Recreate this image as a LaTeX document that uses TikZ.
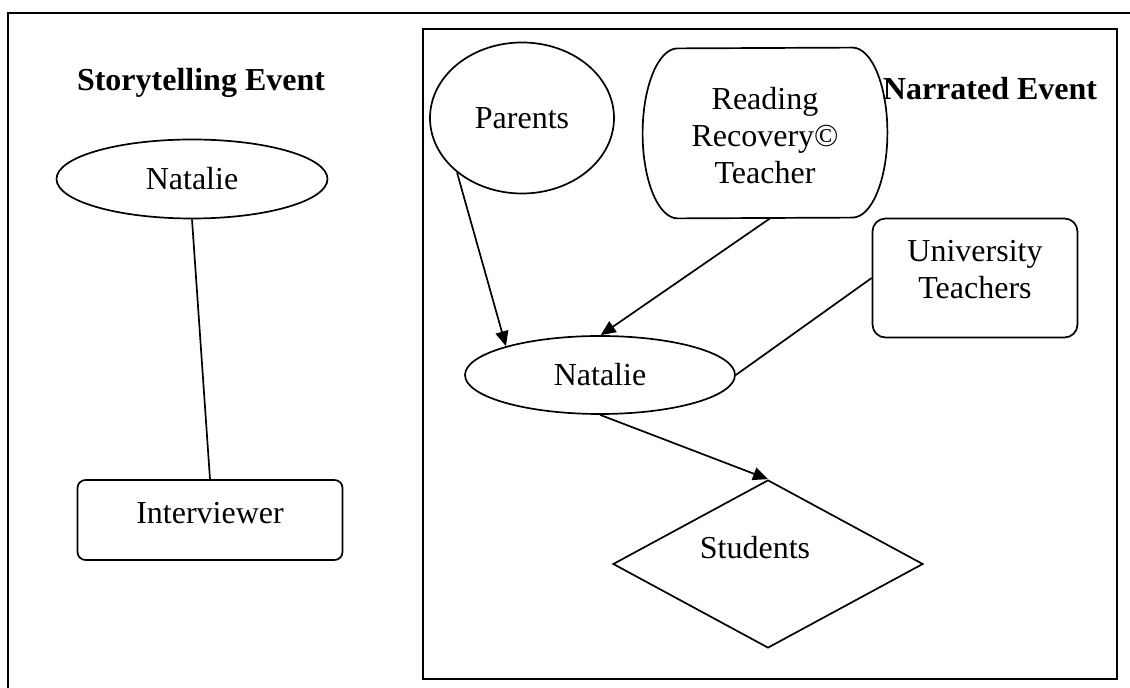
\documentclass[tikz,border=0pt]{standalone}
\usepackage{fontspec}
\setmainfont{Liberation Serif}
\usetikzlibrary{shapes.geometric,arrows.meta}

\begin{document}
\begin{tikzpicture}[x=0.5pt,y=-0.5pt,
    every node/.style={font=\fontsize{16}{18.5}\selectfont, inner sep=0pt},
    frame/.style={line width=1.15pt},
    oval/.style={draw, ellipse, line width=0.85pt},
    roundbox/.style={draw, rectangle, rounded corners=#1, line width=0.85pt},
    roundbox/.default=4pt,
    heading/.style={font=\fontsize{16}{18.5}\selectfont\bfseries, anchor=base},
    link/.style={line width=0.85pt},
    pointer/.style={line width=0.85pt, -{Triangle[length=7.5pt,width=6.5pt]}}]
                \useasboundingbox (0,0) rectangle (1130,688);

                % Outer frame (cut off at right and bottom)
                \draw[frame] (1130,13) -- (8,13) -- (8,688);

                % Storytelling event
                \node[heading] (story) at (201,91) {Storytelling Event};
                \node[oval, minimum width=135.5pt, minimum height=39.5pt] (tellnat) at (192,179) {Natalie};
                \node[roundbox=4pt, minimum width=132.5pt, minimum height=40pt,
                      label={[name=interviewer-t, yshift=3.5pt]center:Interviewer}] (interviewer) at (210,520) {};
                \draw[link] (tellnat.south) -- (interviewer.north);

                % Narrated event box
                \draw[frame] (423,29) rectangle (1117,679);
                \node[heading] (narr) at (990,100) {Narrated Event};
                \node[oval, minimum width=92pt, minimum height=75.5pt] (parents) at (522,118) {Parents};
                \node[minimum width=122pt, minimum height=85pt, align=center] (rrt) at (765,136)
                      {Reading\\Recovery©\\Teacher};
                % flat top and bottom, half-ellipse sides
                \draw[link] ([xshift=-17.5pt,yshift=1.5pt]rrt.north east)
                      arc[start angle=90, end angle=-90, x radius=17.5pt, y radius=42.5pt]
                      -- ([xshift=17.5pt,yshift=1.5pt]rrt.south west)
                      arc[start angle=270, end angle=90, x radius=17.5pt, y radius=42.5pt] -- cycle;
                \node[roundbox=6.5pt, minimum width=102.5pt, minimum height=59.5pt,
                      label={[name=univ-t, yshift=4pt, align=center]center:University\\Teachers}] (univ) at (975,278) {};
                \node[oval, minimum width=135pt, minimum height=39pt] (natalie) at (600,375) {Natalie};
                \node[draw, diamond, line width=0.85pt, minimum width=155pt, minimum height=84pt,
                      label={[name=students-t, yshift=8pt, xshift=-6.5pt]center:Students}] (students) at (768,564) {};

                % Arrows
                \draw[pointer] (parents.220) -- (natalie.163);
                \draw[pointer] ([xshift=2.5pt,yshift=1.5pt]rrt.south) -- (natalie.89);
                \draw[link] (univ.west) -- (natalie.east);
                \draw[pointer] (natalie.south) -- (students.north);
            \end{tikzpicture}
\end{document}
